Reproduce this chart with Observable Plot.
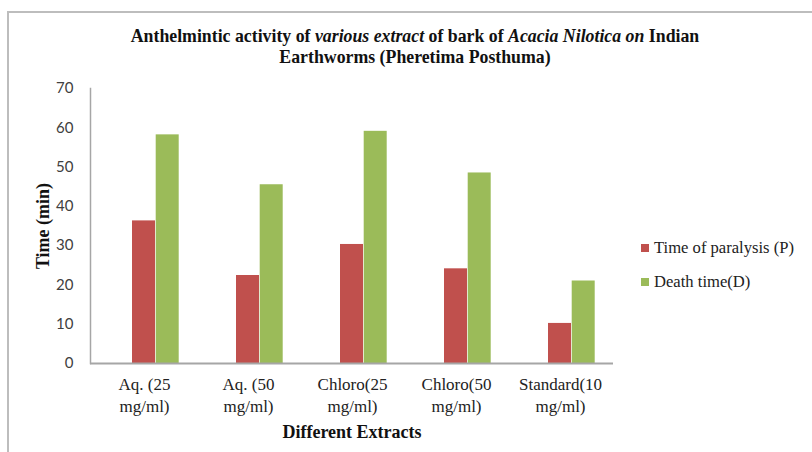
<!DOCTYPE html>
<html>
<head>
<meta charset="utf-8">
<script src="https://cdn.jsdelivr.net/npm/d3@7"></script>
<script src="https://cdn.jsdelivr.net/npm/@observablehq/plot@0.6"></script>
<style>
  html, body { margin: 0; padding: 0; background: #fff; }
  #wrap { position: relative; width: 812px; height: 452px; overflow: hidden; }
  #border { position: absolute; left: 7px; top: 11px; width: 820px; height: 460px;
            border-left: 2px solid #bdbdbd; border-top: 2px solid #bdbdbd; }
  #title { position: absolute; left: 0; width: 830px; top: 26px; text-align: center;
           font-family: "Liberation Serif", serif; font-weight: bold; font-size: 17.8px;
           line-height: 21px; color: #111; }
  #chart { position: absolute; left: 0; top: 70px; }
  #legend { position: absolute; left: 641px; top: 231px; font-family: "Liberation Serif", serif;
            font-size: 16.6px; color: #222; }
  .item { display: flex; align-items: center; height: 34px; }
  .sw { width: 8px; height: 8px; margin-right: 5px; }
</style>
</head>
<body>
<div id="wrap">
  <div id="border"></div>
  <div id="title">Anthelmintic activity of <i>various extract</i> of bark of <i>Acacia Nilotica on</i> Indian<br>Earthworms (Pheretima Posthuma)</div>
  <div id="chart"></div>
  <div id="legend"></div>
</div>
<script>
const categories = ["Aq. (25\nmg/ml)", "Aq. (50\nmg/ml)", "Chloro(25\nmg/ml)", "Chloro(50\nmg/ml)", "Standard(10\nmg/ml)"];
const paralysis = [36.3, 22.4, 30.3, 24.1, 10.2];
const death = [58.2, 45.5, 59.1, 48.5, 21.0];
const seriesNames = ["Time of paralysis (P)", "Death time(D)"];
const seriesColors = ["#C0504D", "#9BBB59"];
const yTicks = [0, 10, 20, 30, 40, 50, 60, 70];

const rows = categories.flatMap((c, i) => [
  {cat: c, series: seriesNames[0], value: paralysis[i]},
  {cat: c, series: seriesNames[1], value: death[i]}
]);

const chart = Plot.plot({
  width: 620,
  height: 382,
  marginLeft: 90,
  marginRight: 7,
  marginTop: 18,
  marginBottom: 89,
  x: {type: "band", domain: categories, padding: 0},
  y: {domain: [0, 70], ticks: yTicks},
  color: {domain: seriesNames, range: seriesColors},
  marks: [
    Plot.barY(rows.filter(d => d.series === seriesNames[0]), {x: "cat", y: "value", fill: "series", insetLeft: 40, insetRight: 41}),
    Plot.barY(rows.filter(d => d.series === seriesNames[1]), {x: "cat", y: "value", fill: "series", insetLeft: 63.7, insetRight: 17.3}),
    Plot.frame({anchor: "left", stroke: "#a6a6a6", strokeWidth: 1.5}),
    Plot.ruleY([0], {stroke: "#a6a6a6", strokeWidth: 2}),
    Plot.axisY({ticks: yTicks, tickSize: 0, tickPadding: 17, fontSize: 15, fontFamily: "Lato, sans-serif", fill: "#404040",
      label: "Time (min)", labelAnchor: "center", labelArrow: "none", labelOffset: 54}),
    Plot.axisX({tickSize: 0, tickPadding: 11, fontSize: 17, fontFamily: "Liberation Serif, serif", fill: "#222", lineHeight: 1.3,
      label: "Different Extracts", labelAnchor: "center", labelArrow: "none", labelOffset: 74})
  ]
});
chart.style.overflow = "visible";
d3.select(chart).selectAll("[aria-label='y-axis label'] text, [aria-label='x-axis label'] text")
  .attr("font-family", "Liberation Serif, serif").attr("font-weight", "bold").attr("font-size", 18).attr("fill", "#111");
document.getElementById("chart").appendChild(chart);

const legend = d3.select("#legend");
seriesNames.forEach((s, i) => {
  const it = legend.append("div").attr("class", "item");
  it.append("div").attr("class", "sw").style("background", seriesColors[i]);
  it.append("span").text(s);
});
</script>
</body>
</html>
